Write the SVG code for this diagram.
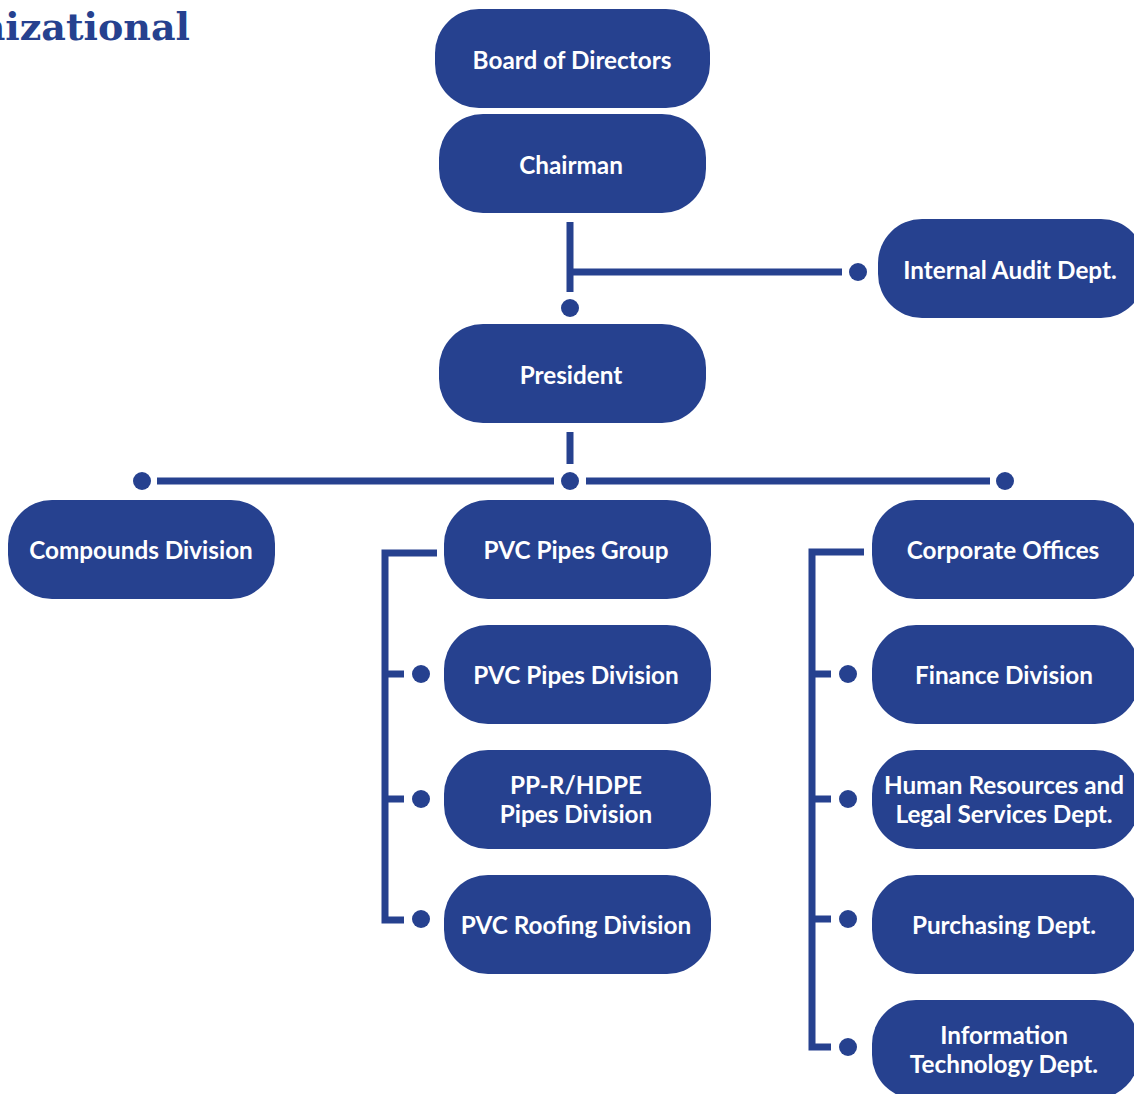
<svg xmlns="http://www.w3.org/2000/svg" width="1134" height="1094" viewBox="0 0 1134 1094">
<style>
.box{fill:#26418F}
.lbl{font-family:Lato,"Liberation Sans",sans-serif;font-weight:700;font-size:24.3px;fill:#fff;text-anchor:middle}
.ln{stroke:#26418F;stroke-width:7;fill:none}
.dot{fill:#26418F}
.title{font-family:"DejaVu Serif","Liberation Serif",serif;font-weight:900;font-size:38px;fill:#26418F;text-anchor:end}
</style>
<rect width="1134" height="1094" fill="#fff"/>
<text class="title" x="190" y="40">Organizational</text>
<g id="connectors">
<path class="ln" d="M570 222V292M570 272H842"/>
<circle class="dot" cx="858" cy="272" r="9"/>
<circle class="dot" cx="570" cy="308" r="9"/>
<path class="ln" d="M570 432V464M157 481H554M586 481H990"/>
<circle class="dot" cx="142" cy="481" r="9"/>
<circle class="dot" cx="570" cy="481" r="9"/>
<circle class="dot" cx="1005" cy="481" r="9"/>
<path class="ln" d="M437 553H385V920H404M385 674H404M385 799H404"/>
<circle class="dot" cx="421" cy="674" r="9"/>
<circle class="dot" cx="421" cy="799" r="9"/>
<circle class="dot" cx="421" cy="919" r="9"/>
<path class="ln" d="M864 552H812V1047H831M812 674H831M812 799H831M812 919H831"/>
<circle class="dot" cx="848" cy="674" r="9"/>
<circle class="dot" cx="848" cy="799" r="9"/>
<circle class="dot" cx="848" cy="919" r="9"/>
<circle class="dot" cx="848" cy="1047" r="9"/>
</g>
<g id="board"><rect class="box" x="435" y="9" width="275" height="99" rx="44"/><text class="lbl" x="572" y="69">Board of Directors</text></g>
<g id="chairman"><rect class="box" x="439" y="114" width="267" height="99" rx="44"/><text class="lbl" x="571" y="174">Chairman</text></g>
<g id="audit"><rect class="box" x="878" y="219" width="267" height="99" rx="44"/><text class="lbl" x="1010" y="279">Internal Audit Dept.</text></g>
<g id="president"><rect class="box" x="439" y="324" width="267" height="99" rx="44"/><text class="lbl" x="571" y="384">President</text></g>
<g id="compounds"><rect class="box" x="8" y="500" width="267" height="99" rx="44"/><text class="lbl" x="141" y="559">Compounds Division</text></g>
<g id="pvcgroup"><rect class="box" x="444" y="500" width="267" height="99" rx="44"/><text class="lbl" x="576" y="559">PVC Pipes Group</text></g>
<g id="corporate"><rect class="box" x="872" y="500" width="267" height="99" rx="44"/><text class="lbl" x="1003" y="559">Corporate Offices</text></g>
<g id="pvcpipes"><rect class="box" x="444" y="625" width="267" height="99" rx="44"/><text class="lbl" x="576" y="684">PVC Pipes Division</text></g>
<g id="pprhdpe"><rect class="box" x="444" y="750" width="267" height="99" rx="44"/><text class="lbl" x="576" y="794">PP-R/HDPE</text><text class="lbl" x="576" y="823">Pipes Division</text></g>
<g id="roofing"><rect class="box" x="444" y="875" width="267" height="99" rx="44"/><text class="lbl" x="576" y="934">PVC Roofing Division</text></g>
<g id="finance"><rect class="box" x="872" y="625" width="267" height="99" rx="44"/><text class="lbl" x="1004" y="684">Finance Division</text></g>
<g id="hr"><rect class="box" x="872" y="750" width="267" height="99" rx="44"/><text class="lbl" x="1004" y="794">Human Resources and</text><text class="lbl" x="1004" y="823">Legal Services Dept.</text></g>
<g id="purchasing"><rect class="box" x="872" y="875" width="267" height="99" rx="44"/><text class="lbl" x="1004" y="934">Purchasing Dept.</text></g>
<g id="it"><rect class="box" x="872" y="1000" width="267" height="99" rx="44"/><text class="lbl" x="1004" y="1044">Information</text><text class="lbl" x="1004" y="1073">Technology Dept.</text></g>
</svg>
